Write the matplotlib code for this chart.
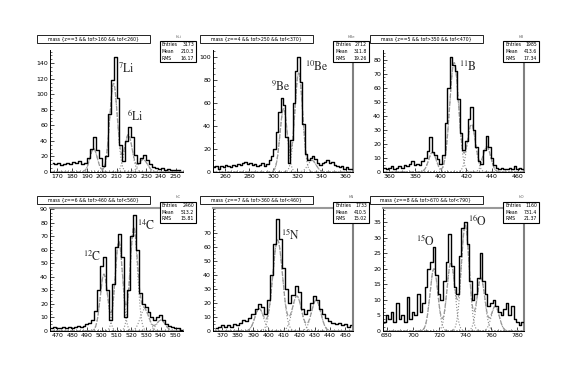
import numpy as np
import matplotlib.pyplot as plt
from matplotlib.patches import Rectangle
from matplotlib.ticker import AutoMinorLocator

plt.rcParams['mathtext.fontset'] = 'stix'

# bin contents (bin width 2)
li_start = 167
li_counts = [12, 10, 11, 9, 10, 12, 10, 13, 11, 14, 10, 12, 18, 30, 45, 28, 18, 8, 20, 75,
             118, 148, 95, 35, 14, 40, 58, 45, 22, 12, 18, 22, 16, 10, 6, 5, 4, 5, 3, 4,
             3, 2, 3, 2]
be_start = 251
be_counts = [4, 5, 3, 5, 4, 6, 5, 4, 6, 5, 7, 6, 8, 9, 7, 8, 6, 7, 5, 6,
             8, 5, 7, 10, 14, 20, 35, 52, 64, 58, 30, 8, 28, 60, 88, 100, 78, 42, 16, 10,
             12, 14, 11, 8, 6, 8, 9, 10, 8, 9, 6, 5, 4, 5, 3, 4, 3, 3]
b_start = 356
b_counts = [3, 2, 3, 4, 2, 3, 4, 3, 5, 4, 6, 8, 5, 6, 5, 8, 10, 15, 25, 14,
            12, 9, 6, 12, 35, 60, 82, 76, 72, 52, 28, 16, 22, 38, 46, 30, 18, 8, 6, 16,
            26, 18, 10, 5, 3, 2, 3, 2, 2, 3, 2, 4, 2, 3, 2]
c_start = 466
c_counts = [2, 3, 2, 2, 3, 2, 3, 2, 3, 4, 3, 4, 5, 6, 8, 15, 30, 48, 55, 30,
            8, 35, 62, 72, 55, 10, 30, 70, 86, 60, 28, 20, 18, 14, 10, 8, 10, 12, 8, 5,
            4, 3, 2, 2, 1]
n_start = 366
n_counts = [2, 3, 4, 3, 4, 3, 5, 4, 6, 8, 7, 9, 12, 16, 19, 17, 12, 22, 40, 62,
            80, 66, 45, 30, 20, 26, 32, 28, 16, 12, 15, 20, 25, 22, 16, 12, 9, 7, 6, 5,
            6, 4, 5, 3, 4]
o_start = 678
o_counts = [3, 5, 4, 6, 3, 9, 4, 5, 3, 11, 4, 6, 5, 12, 6, 9, 14, 20, 22, 27,
            18, 12, 10, 16, 22, 31, 21, 14, 12, 24, 33, 35, 28, 16, 10, 12, 17, 25, 16, 12,
            8, 9, 10, 8, 6, 5, 7, 9, 5, 8, 4, 3, 2, 3]

# gaussian fit components (amplitude, mean, sigma)
li_fit = [(30, 194.5, 2.5), (114, 208, 2.6), (48, 218, 2.6), (16, 228, 3.0)]
be_fit = [(55, 308.5, 3.0), (86, 321, 3.2), (10, 332, 3.5)]
b_fit = [(14, 393.5, 3.0), (78, 410.5, 3.5), (34, 424, 3.2), (18, 436, 3.0)]
c_fit = [(42, 501.5, 2.5), (66, 511.6, 2.5), (76, 521.7, 2.5), (16, 529, 3.0), (8, 540, 3.0)]
n_fit = [(16, 394, 2.8), (65, 406, 3.2), (25, 418.5, 3.0), (22, 431, 3.0)]
o_fit = [(20, 716, 3.0), (22, 729, 3.0), (34, 740, 3.0), (17, 752, 3.0), (8, 763, 3.0)]

titles = ['mass {z==3 && tof>160 && tof<260}',
          'mass {z==4 && tof>250 && tof<370}',
          'mass {z==5 && tof>350 && tof<470}',
          'mass {z==6 && tof>460 && tof<560}',
          'mass {z==7 && tof>360 && tof<460}',
          'mass {z==8 && tof>670 && tof<790}']
stat_names = ['hLi', 'hBe', 'hB', 'hC', 'hN', 'hO']
entries = ['3173', '2712', '1985', '2460', '1733', '1160']
means = ['210.3', '311.8', '413.6', '513.2', '410.5', '731.4']
rms = ['16.17', '19.26', '17.34', '15.81', '15.02', '21.37']

labels = [[(r'$^{7}\mathrm{Li}$', 211, 128), (r'$^{6}\mathrm{Li}$', 217, 67)],
          [(r'$^{9}\mathrm{Be}$', 298, 70), (r'$^{10}\mathrm{Be}$', 326, 88)],
          [(r'$^{11}\mathrm{B}$', 414, 72)],
          [(r'$^{12}\mathrm{C}$', 487, 52), (r'$^{14}\mathrm{C}$', 524, 75)],
          [(r'$^{15}\mathrm{N}$', 408, 66)],
          [(r'$^{15}\mathrm{O}$', 702, 27.5), (r'$^{16}\mathrm{O}$', 742, 34)]]

W, H = 572, 382

panels = [
    dict(start=li_start, counts=li_counts, fit=li_fit, xlim=(165, 255), ylim=(0, 157),
         xt=range(170, 251, 10), yt=range(0, 141, 20), frame=(50, 50, 183, 172), right=False),
    dict(start=be_start, counts=be_counts, fit=be_fit, xlim=(250, 366), ylim=(0, 106),
         xt=range(260, 361, 20), yt=range(0, 101, 20), frame=(213, 50, 353, 172), right=True),
    dict(start=b_start, counts=b_counts, fit=b_fit, xlim=(355, 465), ylim=(0, 87),
         xt=range(360, 461, 20), yt=range(0, 81, 10), frame=(383, 50, 524, 172), right=True),
    dict(start=c_start, counts=c_counts, fit=c_fit, xlim=(465, 555), ylim=(0, 91),
         xt=range(470, 551, 10), yt=range(0, 91, 10), frame=(50, 208, 183, 331), right=False),
    dict(start=n_start, counts=n_counts, fit=n_fit, xlim=(364, 455), ylim=(0, 88),
         xt=range(370, 451, 10), yt=range(0, 71, 10), frame=(213, 208, 353, 331), right=True),
    dict(start=o_start, counts=o_counts, fit=o_fit, xlim=(677, 785), ylim=(0, 39.5),
         xt=range(680, 781, 20), yt=range(0, 36, 5), frame=(383, 208, 524, 331), right=True),
]


def box(x0, y0, x1, y1, lw=0.6, ec='black'):
    # rectangle given in picture pixels
    r = Rectangle((x0 / W, 1 - y1 / H), (x1 - x0) / W, (y1 - y0) / H,
                  transform=fig.transFigure, fc='white', ec=ec, lw=lw, zorder=5)
    fig.add_artist(r)


fig = plt.figure(figsize=(5.72, 3.82), dpi=100)

for i, p in enumerate(panels):
    x0, y0, x1, y1 = p['frame']
    ax = fig.add_axes([x0 / W, 1 - y1 / H, (x1 - x0) / W, (y1 - y0) / H])
    centers = p['start'] + 2 * np.arange(len(p['counts']))
    ax.plot(centers, p['counts'], drawstyle='steps-mid', color='black', lw=1.0, zorder=3)

    xs = np.linspace(p['xlim'][0], p['xlim'][1], 500)
    total = np.zeros_like(xs)
    for a, m, s in p['fit']:
        g = a * np.exp(-0.5 * ((xs - m) / s) ** 2)
        ax.plot(xs, g, ls=':', color='0.55', lw=0.8, zorder=2)
        total += g
    ax.plot(xs, total, ls='--', color='0.6', lw=0.9, zorder=2)

    for txt, lx, ly in labels[i]:
        ax.text(lx, ly, txt, fontsize=8.5, color='0.15')

    ax.set_xlim(*p['xlim'])
    ax.set_ylim(*p['ylim'])
    ax.set_xticks(list(p['xt']))
    ax.set_yticks(list(p['yt']))
    ax.xaxis.set_minor_locator(AutoMinorLocator(4))
    ax.yaxis.set_minor_locator(AutoMinorLocator(4))
    ax.tick_params(which='major', direction='in', length=3, width=0.5, labelsize=4.5, pad=1.5)
    ax.tick_params(which='minor', direction='in', length=1.5, width=0.4)
    ax.spines['left'].set_linewidth(0.7)
    ax.spines['bottom'].set_linewidth(0.7)
    ax.spines['top'].set_visible(i >= 3)
    ax.spines['top'].set_color('0.6')
    ax.spines['top'].set_linewidth(1.5)
    ax.spines['right'].set_visible(p['right'])
    ax.spines['right'].set_color('0.5')
    ax.spines['right'].set_linewidth(1.5)

    # title box and stats box above each frame
    ty = 35 if i < 3 else 196
    box(x0 - 13, ty, x0 + 100, ty + 8)
    fig.text((x0 + 43) / W, 1 - (ty + 4.2) / H, titles[i], fontsize=3.3,
             ha='center', va='center', zorder=6)
    sx = x0 + 110 if i % 3 == 0 else x0 + 120
    fig.text((sx + 18) / W, 1 - (ty + 1.5) / H, stat_names[i], fontsize=2.8,
             ha='center', va='center', color='0.4')
    box(sx, ty + 6, sx + 36, ty + 27, lw=0.8)
    for k, (nm, val) in enumerate(zip(['Entries', 'Mean', 'RMS'], [entries[i], means[i], rms[i]])):
        yy = 1 - (ty + 10 + k * 6.5) / H
        fig.text((sx + 2) / W, yy, nm, fontsize=3.3, va='center', zorder=6)
        fig.text((sx + 34) / W, yy, val, fontsize=3.3, va='center', ha='right', zorder=6)

fig.savefig('out.png', dpi=100)
